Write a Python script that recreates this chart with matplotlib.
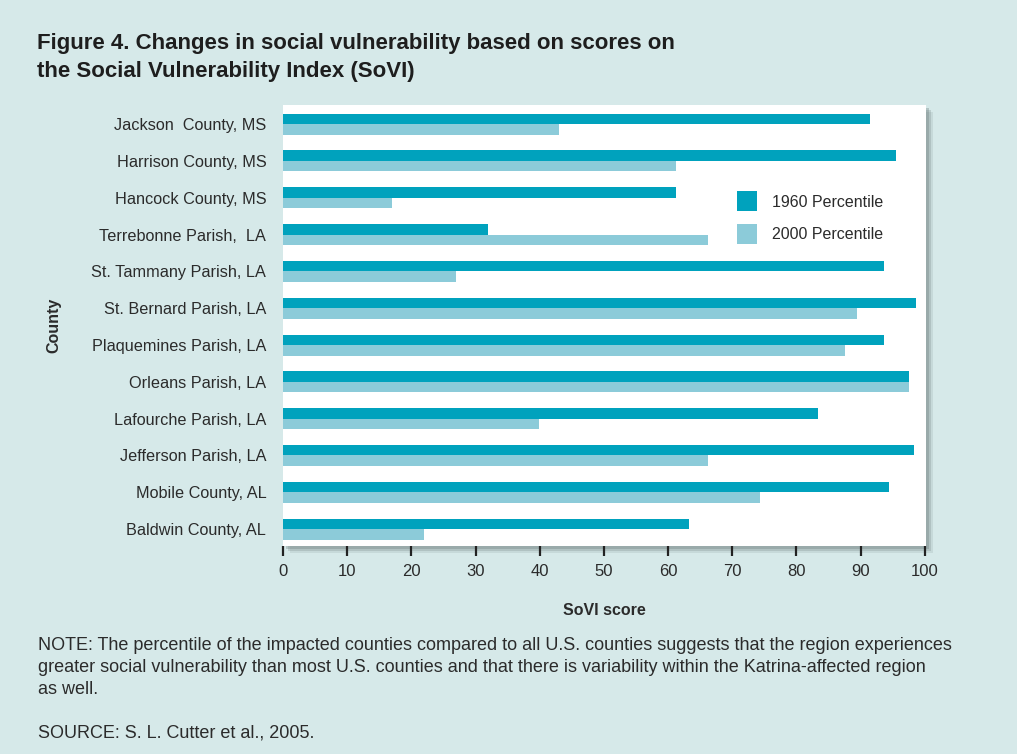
import matplotlib.pyplot as plt
from matplotlib.patches import Rectangle
import numpy as np

plt.rcParams['font.family'] = ['Liberation Sans', 'DejaVu Sans']

#Data
counties = ['Jackson  County, MS', 'Harrison County, MS', 'Hancock County, MS',
            'Terrebonne Parish,  LA', 'St. Tammany Parish, LA', 'St. Bernard Parish, LA',
            'Plaquemines Parish, LA', 'Orleans Parish, LA', 'Lafourche Parish, LA',
            'Jefferson Parish, LA', 'Mobile County, AL', 'Baldwin County, AL']
p1960 = [91.4, 95.5, 61.3, 32.0, 93.6, 98.6, 93.6, 97.5, 83.4, 98.4, 94.4, 63.2]
p2000 = [43.0, 61.2, 17.0, 66.3, 27.0, 89.4, 87.5, 97.5, 39.9, 66.3, 74.4, 22.0]
xticks = [0, 10, 20, 30, 40, 50, 60, 70, 80, 90, 100]

bg = '#d6e9e9'
c1960 = '#00a2bd'
c2000 = '#8ccbd9'
txt = '#2b2b2b'

fig = plt.figure(figsize=(10.17, 7.54), dpi=100, facecolor=bg)
W, H = 1017, 754

#axes box in pixels
x0, x1, ytop, ybot = 283, 926, 105, 546
ax = fig.add_axes([x0/W, 1-ybot/H, (x1-x0)/W, (ybot-ytop)/H])
ax.set_facecolor('white')
ax.set_zorder(2)

#drop shadow right and bottom
for k, a in zip([7, 5, 3], [0.15, 0.25, 0.35]):
    fig.patches.append(Rectangle(((x0+k)/W, 1-(ybot+k)/H), (x1-x0)/W, (ybot-ytop)/H,
                                 transform=fig.transFigure, facecolor='#6f7f80',
                                 alpha=a, edgecolor='none', zorder=0))

y = np.arange(len(counties))
h = 0.285
ax.barh(y - h/2, p1960, height=h, color=c1960, label='1960 Percentile')
ax.barh(y + h/2, p2000, height=h, color=c2000, label='2000 Percentile')

ax.set_xlim(0, 100.2)
ax.set_ylim(11.46, -0.52)
ax.set_yticks(y)
ax.set_yticklabels(counties, fontsize=11.7, color=txt)
ax.tick_params(axis='y', length=0, pad=12)
ax.set_xticks(xticks)
ax.set_xticklabels([str(t) for t in xticks], fontsize=12, color=txt)
ax.tick_params(axis='x', direction='out', length=7, width=1.6, color='#222222', pad=6)
for s in ax.spines.values():
    s.set_visible(False)

ax.set_xlabel('SoVI score', fontsize=11.5, fontweight='bold', color=txt, labelpad=17)
ax.set_ylabel('County', fontsize=11.5, fontweight='bold', color=txt, labelpad=22)

leg = ax.legend(loc='upper left', bbox_to_anchor=(0.683, 0.837), frameon=False,
                fontsize=11.5, handlelength=1.3, handleheight=1.55, handletextpad=0.9,
                labelspacing=0.78, labelcolor=txt)

fig.text(37/W, 1-43/H, 'Figure 4. Changes in social vulnerability based on scores on',
         fontsize=16, fontweight='bold', color='#1e1e1e', va='center')
fig.text(37/W, 1-72/H, 'the Social Vulnerability Index (SoVI)',
         fontsize=16, fontweight='bold', color='#1e1e1e', va='center')

note = ['NOTE: The percentile of the impacted counties compared to all U.S. counties suggests that the region experiences',
        'greater social vulnerability than most U.S. counties and that there is variability within the Katrina-affected region',
        'as well.']
for i, line in enumerate(note):
    fig.text(38/W, 1-(645+22.5*i)/H, line, fontsize=13, color=txt, va='center')
fig.text(38/W, 1-733/H, 'SOURCE: S. L. Cutter et al., 2005.', fontsize=13, color=txt, va='center')

fig.savefig('out.png', dpi=100, facecolor=bg)
